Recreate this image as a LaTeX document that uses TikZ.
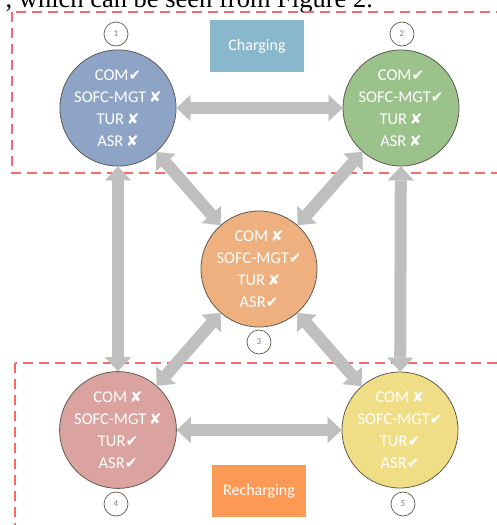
\documentclass[tikz,border=0pt]{standalone}
\usepackage{fontspec}
\setmainfont{Carlito}
\newfontfamily\mysymfont{DejaVu Sans}
\newfontfamily\myseriffont{Liberation Serif}
\usetikzlibrary{arrows.meta}
\definecolor{dashred}{RGB}{245,105,105}
\definecolor{arrowgray}{RGB}{191,191,191}
\definecolor{outlinec}{RGB}{95,90,80}
\definecolor{numc}{RGB}{120,120,170}
\definecolor{fillA}{RGB}{142,164,198}
\definecolor{fillB}{RGB}{155,194,138}
\definecolor{fillC}{RGB}{237,176,126}
\definecolor{fillD}{RGB}{219,163,160}
\definecolor{fillE}{RGB}{240,222,135}
\definecolor{chargec}{RGB}{137,183,204}
\definecolor{rechargec}{RGB}{252,153,85}
\newcommand{\mycheck}{{\mysymfont\fontsize{15}{15}\selectfont ✔}}
\newcommand{\mycross}{\,{\mysymfont\fontsize{15}{15}\selectfont ✘}}
\tikzset{
  dashbox/.style={draw=dashred, line width=1.1pt, dash pattern=on 10pt off 6pt},
  statec/.style={circle, draw=outlinec, line width=0.8pt, minimum size=116pt, inner sep=0pt,
    text=white, align=center, font=\fontsize{16.5}{22}\selectfont},
  numcirc/.style={circle, draw=outlinec, line width=0.7pt, fill=white, minimum size=24pt, inner sep=0pt,
    text=numc, font=\fontsize{9}{10}\selectfont},
  phasebox/.style={minimum width=94pt, minimum height=52pt, inner sep=0pt, text=white,
    font=\fontsize{16}{18}\selectfont},
  conn/.style={draw=arrowgray, line width=12pt,
    {Triangle[width=26pt,length=14pt,line width=0.01pt]}-{Triangle[width=26pt,length=14pt,line width=0.01pt]}}
}
\begin{document}
\begin{tikzpicture}[x=1pt,y=-1pt]
\useasboundingbox (0,0) rectangle (497,525);
\node[anchor=base west, inner sep=0pt, font=\myseriffont\fontsize{26.5}{30}\selectfont] (hdr) at (5.5,7) {, which can be seen from Figure 2.};
\draw[dashbox] (12,12) rectangle (530,173);
\draw[dashbox] (15,363) rectangle (530,545);
\node[phasebox, fill=chargec] (chg) at (257,46) {Charging};
\node[phasebox, fill=rechargec] (rchg) at (259,491) {Recharging};
\node[statec, fill=fillA] (c1) at (118,108) {COM\mycheck\\SOFC-MGT\mycross\\TUR\mycross\\ASR\mycross};
\node[statec, fill=fillB] (c2) at (401,108) {COM\mycheck\\SOFC-MGT\mycheck\\TUR\mycross\\ASR\mycross};
\node[statec, fill=fillC] (c3) at (259,269) {COM\mycross\\SOFC-MGT\mycheck\\TUR\mycross\\ASR\mycheck};
\node[statec, fill=fillD] (c4) at (118,430) {COM\mycross\\SOFC-MGT\mycross\\TUR\mycheck\\ASR\mycheck};
\node[statec, fill=fillE] (c5) at (400,430) {COM\mycross\\SOFC-MGT\mycheck\\TUR\mycheck\\ASR\mycheck};
\node[numcirc] (n1) at (116,34) {1};
\node[numcirc] (n2) at (402,34) {2};
\node[numcirc] (n3) at (259,342) {3};
\node[numcirc] (n4) at (116,504) {4};
\node[numcirc] (n5) at (403,504) {5};
\draw[conn] (c1) -- (c2);
\draw[conn] (c4) -- (c5);
\draw[conn] (c1) -- (c4);
\draw[conn] (c2) -- (c5);
\draw[conn] (c1) -- (c3);
\draw[conn] (c2) -- (c3);
\draw[conn] (c4) -- (c3);
\draw[conn] (c5) -- (c3);
\end{tikzpicture}
\end{document}
